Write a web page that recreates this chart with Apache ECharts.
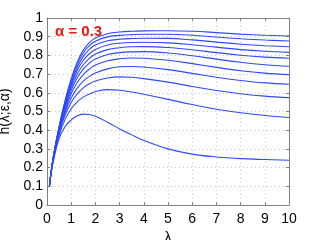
<!DOCTYPE html>
<html><head><meta charset="utf-8">
<script src="https://cdn.jsdelivr.net/npm/echarts@6/dist/echarts.min.js"></script>
<style>html,body{margin:0;padding:0;background:#fff}#c{width:319px;height:240px}</style>
</head><body><div id="c"></div>
<script>
const lambda = [0.1, 0.25, 0.5, 0.75, 1, 1.25, 1.5, 1.75, 2, 2.5, 3, 3.5, 4, 5, 6, 7, 8, 9, 10];
const c1  = [0.10, 0.250, 0.420, 0.560, 0.675, 0.765, 0.828, 0.868, 0.893, 0.916, 0.925, 0.929, 0.931, 0.932, 0.929, 0.922, 0.914, 0.908, 0.904];
const c2  = [0.10, 0.249, 0.417, 0.554, 0.665, 0.752, 0.813, 0.852, 0.876, 0.899, 0.907, 0.911, 0.913, 0.913, 0.908, 0.898, 0.889, 0.882, 0.877];
const c3  = [0.10, 0.248, 0.413, 0.547, 0.654, 0.737, 0.795, 0.832, 0.855, 0.878, 0.886, 0.890, 0.892, 0.891, 0.883, 0.871, 0.860, 0.852, 0.846];
const c4  = [0.10, 0.247, 0.409, 0.539, 0.642, 0.720, 0.774, 0.809, 0.832, 0.856, 0.865, 0.869, 0.870, 0.867, 0.857, 0.844, 0.831, 0.822, 0.816];
const c5  = [0.10, 0.246, 0.405, 0.530, 0.628, 0.700, 0.750, 0.784, 0.807, 0.831, 0.841, 0.846, 0.847, 0.842, 0.830, 0.815, 0.801, 0.791, 0.785];
const c6  = [0.10, 0.245, 0.400, 0.520, 0.613, 0.680, 0.727, 0.759, 0.781, 0.805, 0.815, 0.819, 0.820, 0.813, 0.798, 0.780, 0.763, 0.750, 0.742];
const c7  = [0.10, 0.244, 0.395, 0.509, 0.595, 0.655, 0.697, 0.727, 0.748, 0.771, 0.782, 0.786, 0.785, 0.774, 0.756, 0.736, 0.718, 0.705, 0.697];
const c8  = [0.10, 0.242, 0.390, 0.496, 0.572, 0.625, 0.662, 0.688, 0.706, 0.728, 0.739, 0.741, 0.738, 0.724, 0.704, 0.683, 0.666, 0.653, 0.646];
const c9  = [0.10, 0.240, 0.383, 0.481, 0.548, 0.594, 0.626, 0.648, 0.663, 0.679, 0.685, 0.683, 0.676, 0.657, 0.634, 0.612, 0.595, 0.582, 0.574];
const c10 = [0.10, 0.237, 0.372, 0.458, 0.515, 0.552, 0.577, 0.594, 0.606, 0.617, 0.614, 0.604, 0.592, 0.565, 0.537, 0.512, 0.493, 0.479, 0.468];
const c11 = [0.10, 0.225, 0.355, 0.420, 0.455, 0.477, 0.486, 0.484, 0.474, 0.443, 0.407, 0.375, 0.345, 0.300, 0.272, 0.257, 0.248, 0.243, 0.239];
const curves = [c1, c2, c3, c4, c5, c6, c7, c8, c9, c10, c11];
const xTickLabels = ['0','1','2','3','4','5','6','7','8','9','10'];
const yTickLabels = ['0','0.1','0.2','0.3','0.4','0.5','0.6','0.7','0.8','0.9','1'];

const font = 'Liberation Sans, Arial, Helvetica, sans-serif';
const axisCol = '#808080';
const chart = echarts.init(document.getElementById('c'));
const baseX = {
  type: 'value', min: 0, max: 10, interval: 1,
  axisLine: {show: true, onZero: false, lineStyle: {color: axisCol, width: 1}},
  axisTick: {show: true, inside: true, length: 3, lineStyle: {color: axisCol}},
  splitLine: {show: false}
};
const baseY = {
  type: 'value', min: 0, max: 1, interval: 0.1,
  axisLine: {show: true, onZero: false, lineStyle: {color: axisCol, width: 1}},
  axisTick: {show: true, inside: true, length: 3, lineStyle: {color: axisCol}},
  splitLine: {show: false}
};
chart.setOption({
  animation: false,
  grid: {left: 47, right: 30, top: 18, bottom: 35, containLabel: false, outerBoundsMode: 'none'},
  graphic: [{
    type: 'text', left: 55, top: 24,
    style: {text: 'α = 0.3', fill: '#f01414', font: 'bold 15px ' + font}
  }],
  xAxis: [
    Object.assign({}, baseX, {
      position: 'bottom',
      name: 'λ', nameLocation: 'middle', nameGap: 16,
      nameTextStyle: {color: '#000', fontSize: 14, fontFamily: font},
      axisLabel: {color: '#000', fontSize: 14, fontFamily: font, margin: 7,
        formatter: v => xTickLabels[Math.round(v)]},
      splitLine: {show: true, lineStyle: {color: '#c8c8c8', type: [1, 3], width: 1}}
    }),
    Object.assign({}, baseX, {position: 'top', axisLabel: {show: false}})
  ],
  yAxis: [
    Object.assign({}, baseY, {
      position: 'left',
      name: 'h(λ;ε,α)', nameLocation: 'middle', nameGap: 32, nameRotate: 90,
      nameTextStyle: {color: '#000', fontSize: 14, fontFamily: font},
      axisLabel: {color: '#000', fontSize: 14, fontFamily: font, margin: 4,
        formatter: v => yTickLabels[Math.round(v * 10)]},
      splitLine: {show: true, lineStyle: {color: '#c8c8c8', type: [1, 3], width: 1}}
    }),
    Object.assign({}, baseY, {position: 'right', axisLabel: {show: false}})
  ],
  series: curves.map(c => ({
    type: 'line', smooth: 0.4, showSymbol: false, silent: true,
    xAxisIndex: 0, yAxisIndex: 0,
    lineStyle: {color: '#2e48ff', width: 1.1},
    data: lambda.map((x, i) => [x, c[i]])
  }))
});
</script></body></html>
